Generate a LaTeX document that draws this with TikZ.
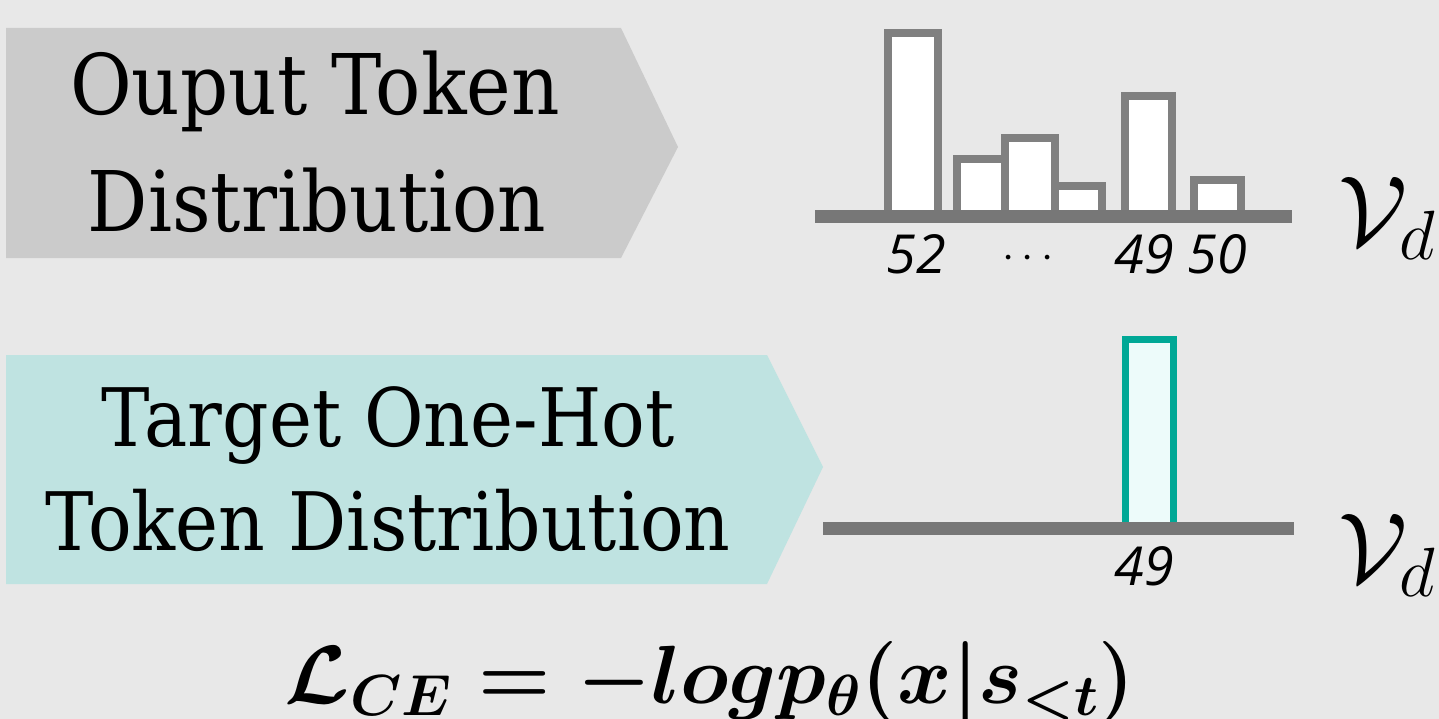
\RequirePackage{fix-cm}
\documentclass[tikz,border=0pt]{standalone}
\usepackage{fontspec}
\newfontfamily\numfont{Open Sans}
\newfontfamily\labelfont{DejaVu Serif}[FakeStretch=0.9]
\definecolor{bgc}{HTML}{E8E8E8}
\definecolor{greybox}{HTML}{CBCBCB}
\definecolor{tealbox}{HTML}{BFE3E1}
\definecolor{barline}{HTML}{808080}
\definecolor{axisc}{HTML}{777777}
\definecolor{tealline}{HTML}{00A896}
\definecolor{tealfill}{HTML}{EDFBFA}
\newsavebox{\formulabox}
\tikzset{
  label text/.style={inner sep=0pt, font=\labelfont\fontsize{84}{90}\selectfont, anchor=base},
  small label text/.style={inner sep=0pt, font=\labelfont\fontsize{81}{86}\selectfont, anchor=base},
  num text/.style={inner sep=0pt, font=\fontsize{54}{58}\selectfont\numfont\itshape, anchor=base},
  vd text/.style={inner sep=0pt, font=\fontsize{100}{110}\selectfont, anchor=base west},
  formula text/.style={inner sep=0pt, anchor=base},
  bar/.style={draw=barline, line width=8bp, fill=white},
  onehot/.style={draw=tealline, line width=7bp, fill=tealfill},
  axisline/.style={draw=axisc, line width=13bp},
}
\begin{document}
\begin{tikzpicture}[x=1bp,y=-1bp]
\fill[bgc] (0,0) rectangle (1439,719);
\useasboundingbox (0,0) rectangle (1439,719);
% top arrow box
\fill[greybox] (6,28) -- (621,28) -- (678,147) -- (621,258) -- (6,258) -- cycle;
\node[label text] (t1) at (315,115) {Ouput Token};
\node[label text] (t2) at (317,231) {Distribution};
% bottom arrow box
\fill[tealbox] (6,355) -- (767,355) -- (823,467) -- (767,584) -- (6,584) -- cycle;
\node[small label text] (b1) at (388,446) {Target One-Hot};
\node[small label text] (b2) at (388,550) {Token Distribution};
% top histogram
\draw[bar] (888,216) rectangle (938,33);
\draw[bar] (957,216) rectangle (1005,159);
\draw[bar] (1005,216) rectangle (1055,138);
\draw[bar] (1055,216) rectangle (1102,186);
\draw[bar] (1125,216) rectangle (1172,96);
\draw[bar] (1194,216) rectangle (1241,180);
\coordinate (a1) at (815,216);
\coordinate (a2) at (1292,216);
\draw[axisline] (a1) -- (a2);
\node[num text] (n52) at (916,273) {52};
\node[num text, font=\fontsize{44}{48}\selectfont] (ndots) at (1028,268) {$\cdots$};
\node[num text] (n49) at (1144,273) {49};
\node[num text] (n50) at (1217,273) {50};
\node[vd text] (v1) at (1338,245) {$\mathcal{V}_d$};
% bottom histogram
\draw[onehot] (1125,528) rectangle (1173,339);
\coordinate (c1) at (823,528);
\coordinate (c2) at (1294,528);
\draw[axisline] (c1) -- (c2);
\node[num text] (m49) at (1144,585) {49};
\node[vd text] (v2) at (1338,582) {$\mathcal{V}_d$};
% formula
\sbox{\formulabox}{\fontsize{83}{90}\selectfont\boldmath$\mathcal{L}_{CE} = -log p_\theta(x\vert s_{<t})$}
\node[formula text] (lossf) at (710,703) {\usebox{\formulabox}};
\end{tikzpicture}
\end{document}
